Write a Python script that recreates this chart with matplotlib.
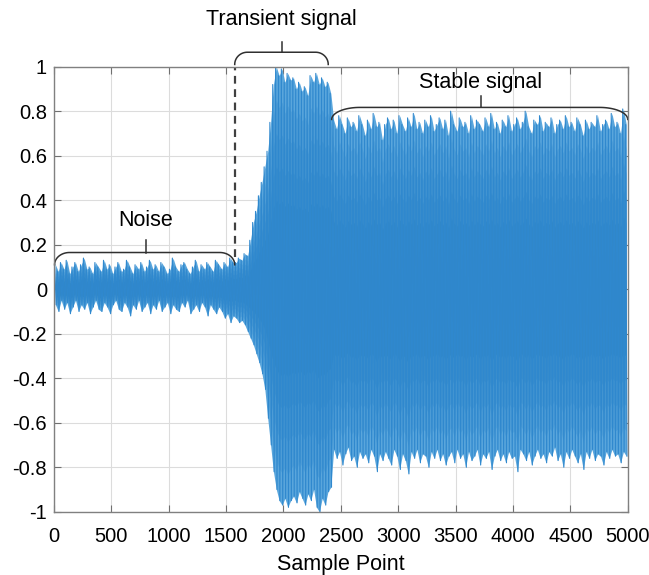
import numpy as np
import matplotlib.pyplot as plt

plt.rcParams['font.family'] = ['Liberation Sans', 'DejaVu Sans']

# signal envelope, one value per 25-sample bin
bin_width = 25
upper = [0.11, 0.08, 0.12, 0.09, 0.13, 0.07, 0.10, 0.12, 0.08, 0.11,
         0.14, 0.09, 0.10, 0.07, 0.12, 0.10, 0.08, 0.13, 0.09, 0.11,
         0.07, 0.10, 0.12, 0.08, 0.09, 0.13, 0.10, 0.07, 0.11, 0.09,
         0.12, 0.08, 0.10, 0.13, 0.09, 0.11, 0.08, 0.12, 0.10, 0.07,
         0.09, 0.14, 0.10, 0.08, 0.11, 0.12, 0.09, 0.07, 0.10, 0.13,
         0.08, 0.11, 0.09, 0.12, 0.10, 0.08, 0.13, 0.11, 0.09, 0.12,
         0.10, 0.14, 0.12,
         0.12, 0.14, 0.13, 0.16, 0.15, 0.22, 0.30, 0.35, 0.42, 0.48,
         0.55, 0.62, 0.75, 0.92, 1.00, 0.96, 0.99, 0.93, 0.97, 0.94,
         0.95, 0.90, 0.93, 0.89, 0.91, 0.87, 0.96, 0.93, 0.97, 0.92,
         0.95, 0.91, 0.93, 0.88,
         0.76, 0.72, 0.78, 0.74, 0.70, 0.77, 0.73, 0.75, 0.71, 0.78,
         0.74, 0.69, 0.76, 0.72, 0.79, 0.73, 0.75, 0.67, 0.74, 0.77,
         0.72, 0.76, 0.70, 0.78, 0.74, 0.71, 0.77, 0.73, 0.79, 0.72,
         0.75, 0.70, 0.76, 0.73, 0.78, 0.71, 0.74, 0.77, 0.72, 0.76,
         0.69, 0.80, 0.74, 0.71, 0.77, 0.73, 0.75, 0.70, 0.78, 0.72,
         0.76, 0.74, 0.71, 0.77, 0.73, 0.79, 0.72, 0.75, 0.70, 0.76,
         0.73, 0.78, 0.71, 0.74, 0.77, 0.72, 0.75, 0.80, 0.73, 0.70,
         0.76, 0.74, 0.78, 0.71, 0.75, 0.73, 0.77, 0.70, 0.74, 0.76,
         0.72, 0.78, 0.73, 0.75, 0.71, 0.77, 0.74, 0.69, 0.76, 0.72,
         0.75, 0.73, 0.78, 0.71, 0.74, 0.76, 0.72, 0.79, 0.73, 0.75,
         0.70, 0.81, 0.74]
lower = [-0.07, -0.10, -0.05, -0.09, -0.06, -0.11, -0.08, -0.05, -0.10, -0.07,
         -0.09, -0.06, -0.11, -0.08, -0.05, -0.09, -0.10, -0.06, -0.08, -0.11,
         -0.07, -0.05, -0.09, -0.10, -0.06, -0.08, -0.12, -0.07, -0.09, -0.05,
         -0.10, -0.08, -0.06, -0.11, -0.07, -0.09, -0.05, -0.10, -0.08, -0.06,
         -0.11, -0.07, -0.09, -0.10, -0.06, -0.08, -0.05, -0.11, -0.09, -0.07,
         -0.10, -0.06, -0.08, -0.12, -0.07, -0.09, -0.11, -0.08, -0.10, -0.13,
         -0.11, -0.15, -0.12,
         -0.13, -0.15, -0.14, -0.16, -0.19, -0.22, -0.25, -0.29, -0.33, -0.38,
         -0.45, -0.58, -0.70, -0.82, -0.90, -0.95, -0.97, -0.94, -0.98, -0.95,
         -0.93, -0.96, -0.91, -0.94, -0.97, -0.92, -0.95, -0.90, -0.98, -1.00,
         -0.94, -0.97, -0.91, -0.89,
         -0.72, -0.76, -0.73, -0.79, -0.74, -0.71, -0.77, -0.75, -0.80, -0.73,
         -0.76, -0.74, -0.78, -0.72, -0.75, -0.82, -0.74, -0.77, -0.73, -0.76,
         -0.79, -0.72, -0.75, -0.81, -0.74, -0.77, -0.83, -0.73, -0.76, -0.72,
         -0.78, -0.74, -0.75, -0.80, -0.73, -0.76, -0.72, -0.77, -0.74, -0.79,
         -0.75, -0.73, -0.78, -0.72, -0.76, -0.74, -0.80, -0.73, -0.77, -0.75,
         -0.72, -0.79, -0.74, -0.76, -0.73, -0.81, -0.75, -0.72, -0.77, -0.74,
         -0.78, -0.73, -0.76, -0.75, -0.82, -0.72, -0.74, -0.77, -0.73, -0.79,
         -0.75, -0.72, -0.76, -0.74, -0.78, -0.73, -0.75, -0.71, -0.77, -0.74,
         -0.80, -0.73, -0.76, -0.72, -0.75, -0.78, -0.74, -0.81, -0.73, -0.76,
         -0.72, -0.77, -0.74, -0.75, -0.79, -0.73, -0.76, -0.72, -0.75, -0.74,
         -0.78, -0.73, -0.75]

x_ticks = [0, 500, 1000, 1500, 2000, 2500, 3000, 3500, 4000, 4500, 5000]
y_ticks = [-1, -0.8, -0.6, -0.4, -0.2, 0, 0.2, 0.4, 0.6, 0.8, 1]
y_tick_labels = ['-1', '-0.8', '-0.6', '-0.4', '-0.2', '0', '0.2', '0.4', '0.6', '0.8', '1']

upper = np.array(upper)
lower = np.array(lower)
centers = np.arange(len(upper)) * bin_width + bin_width / 2

fig = plt.figure(figsize=(6.49, 5.75), dpi=100)
ax = fig.add_axes([0.0832, 0.110, 0.884, 0.774])

# band, zigzag between the peaks, darker core
ax.fill_between(centers, lower, upper, color='#5aa6dc', lw=0)
zx = np.column_stack([centers - 6, centers + 6]).ravel()
zy = np.column_stack([upper, lower]).ravel()
ax.plot(zx, zy, color='#2f88ce', lw=0.8)
for k in [0.85, 0.7, 0.55, 0.4]:
    ax.fill_between(centers, k * lower, k * upper, color='#0a6cb8', alpha=0.16, lw=0)

ax.set_xlim(0, 5000)
ax.set_ylim(-1, 1)
ax.set_xticks(x_ticks)
ax.set_yticks(y_ticks)
ax.set_yticklabels(y_tick_labels)
ax.grid(True, color='#dcdcdc', lw=0.8)
ax.set_axisbelow(True)
ax.tick_params(direction='in', top=True, right=True, length=5, width=0.8,
               color='#707070', labelsize=14.5)
ax.tick_params(axis='x', pad=11)
ax.tick_params(axis='y', pad=5)
for s in ax.spines.values():
    s.set_color('#808080')
    s.set_linewidth(1.0)
ax.set_xlabel('Sample Point', fontsize=15.5, labelpad=6)


def brace(x0, x1, y0, rise, corner, tick_x, tick_top):
    t = np.linspace(0, np.pi / 2, 30)
    lx = x0 + corner * (1 - np.cos(t))
    ly = y0 + rise * np.sin(t)
    rx = (x1 - corner * (1 - np.cos(t)))[::-1]
    ry = ly[::-1]
    ax.plot(np.concatenate([lx, rx]), np.concatenate([ly, ry]),
            color='#303030', lw=1.1, clip_on=False)
    ax.plot([tick_x, tick_x], [y0 + rise, tick_top], color='#303030', lw=1.1, clip_on=False)


brace(5, 1575, 0.11, 0.055, 130, 800, 0.222)
brace(1575, 2390, 1.01, 0.055, 110, 1985, 1.11)
brace(2420, 5000, 0.763, 0.054, 245, 3720, 0.867)

ax.text(800, 0.31, 'Noise', ha='center', va='center', fontsize=15.5)
ax.text(1985, 1.21, 'Transient signal', ha='center', va='center', fontsize=15.5)
ax.text(3715, 0.93, 'Stable signal', ha='center', va='center', fontsize=15.5)

# dashed boundary
ax.plot([1575, 1575], [0.145, 1.0], color='#404040', lw=1.6, ls=(0, (3.5, 2.5)))

plt.savefig('out.png', dpi=100)
plt.close()
